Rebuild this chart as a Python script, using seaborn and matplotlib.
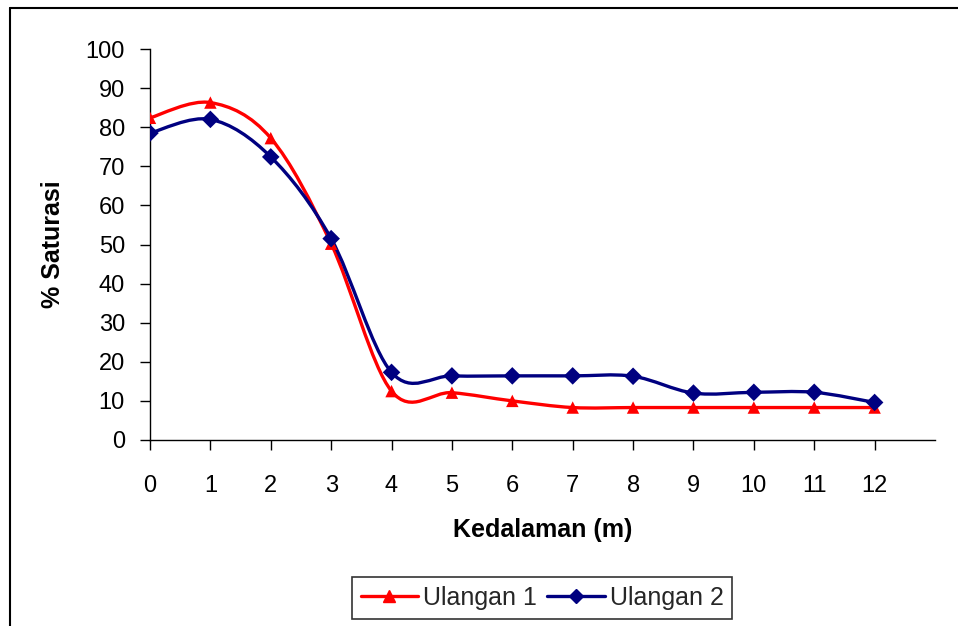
import numpy as np
import pandas as pd
import matplotlib
matplotlib.use("Agg")
import matplotlib.pyplot as plt
import seaborn as sns
from matplotlib.path import Path
from matplotlib.patches import PathPatch
from matplotlib.lines import Line2D

# ---- data ----
depth = [0, 1, 2, 3, 4, 5, 6, 7, 8, 9, 10, 11, 12]
ulangan1 = [82.4, 86.3, 77.2, 50.2, 12.5, 12.1, 10.0, 8.3, 8.3, 8.3, 8.3, 8.3, 8.3]
ulangan2 = [78.5, 82.0, 72.4, 51.5, 17.3, 16.4, 16.4, 16.4, 16.3, 12.0, 12.2, 12.2, 9.6]
series_names = ["Ulangan 1", "Ulangan 2"]
colors = {"Ulangan 1": "#FF0000", "Ulangan 2": "#000080"}
markers = {"Ulangan 1": "^", "Ulangan 2": "D"}
x_label = "Kedalaman (m)"
y_label = "% Saturasi"

df = pd.concat([
    pd.DataFrame({"depth": depth, "value": ulangan1, "series": series_names[0]}),
    pd.DataFrame({"depth": depth, "value": ulangan2, "series": series_names[1]}),
], ignore_index=True)

sns.set_theme(style="white")
plt.rcParams["font.family"] = ["Liberation Sans", "DejaVu Sans"]

fig = plt.figure(figsize=(9.58, 6.26), dpi=100)
ax = fig.add_axes([150 / 958, 1 - 440 / 626, (935 - 150) / 958, (440 - 49) / 626])


def smooth_path(xs, ys):
    """Excel-like smoothed line: cubic Bezier segments through the data points."""
    pts = np.column_stack([xs, ys]).astype(float)
    n = len(pts)
    verts = [pts[0]]
    codes = [Path.MOVETO]
    for i in range(n - 1):
        p0 = pts[max(i - 1, 0)]
        p1 = pts[i]
        p2 = pts[i + 1]
        p3 = pts[min(i + 2, n - 1)]
        c1 = p1 + (p2 - p0) / 6.0
        c2 = p2 - (p3 - p1) / 6.0
        verts += [c1, c2, p2]
        codes += [Path.CURVE4] * 3
    return Path(verts, codes)


for name in series_names:
    sub = df[df["series"] == name]
    patch = PathPatch(smooth_path(sub["depth"].values, sub["value"].values),
                      fill=False, edgecolor=colors[name], lw=2.4,
                      transform=ax.transData, zorder=2, capstyle="round",
                      joinstyle="round")
    ax.add_patch(patch)

sns.scatterplot(data=df, x="depth", y="value", hue="series", style="series",
                palette=colors, markers=markers, s=80, edgecolor="none",
                legend=False, ax=ax, zorder=3)

ax.set_xlim(0, 13)
ax.set_ylim(0, 100)
ax.set_xticks(depth)
ax.set_xticklabels([str(d) for d in depth])
ax.set_yticks(range(0, 101, 10))
ax.set_yticklabels([str(v) for v in range(0, 101, 10)])

for s in ["top", "right"]:
    ax.spines[s].set_visible(False)
for s in ["left", "bottom"]:
    ax.spines[s].set_color("black")
    ax.spines[s].set_linewidth(1.0)

ax.tick_params(axis="both", which="major", direction="out", length=7,
               width=1.0, color="black", labelsize=17, labelcolor="black",
               bottom=True, left=True)
ax.tick_params(axis="x", pad=18)
ax.tick_params(axis="y", pad=11)

ax.set_xlabel(x_label, fontsize=18, fontweight="bold", labelpad=15, color="black")
ax.set_ylabel(y_label, fontsize=18, fontweight="bold", labelpad=15, color="black")
ax.grid(False)
ax.set_facecolor("white")

# legend
handles = [Line2D([], [], color=colors[n], marker=markers[n], lw=2.4,
                  markersize=9 if n == "Ulangan 1" else 7) for n in series_names]
leg = fig.legend(handles, series_names, loc="center",
                 bbox_to_anchor=(542 / 958, 1 - 598 / 626), ncol=2,
                 fontsize=18, frameon=True, fancybox=False, edgecolor="black",
                 handlelength=2.3, handletextpad=0.2, columnspacing=0.4,
                 borderpad=0.35, borderaxespad=0)
leg.get_frame().set_linewidth(1.2)

# outer chart frame (left and top edges visible in the crop)
fig.add_artist(Line2D([10 / 958, 10 / 958], [0, 1 - 8 / 626],
                      transform=fig.transFigure, color="black", lw=1.5))
fig.add_artist(Line2D([10 / 958, 1], [1 - 8 / 626, 1 - 8 / 626],
                      transform=fig.transFigure, color="black", lw=1.5))

fig.savefig("out.png", dpi=100, facecolor="white")
